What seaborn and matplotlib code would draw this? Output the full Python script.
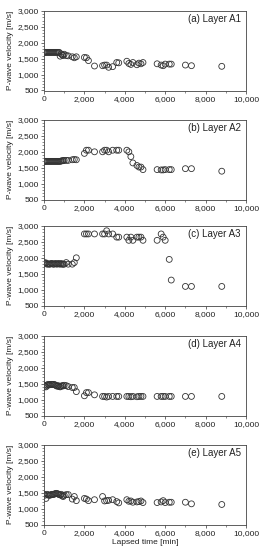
import numpy as np
import pandas as pd
import matplotlib
matplotlib.use("Agg")
import matplotlib.pyplot as plt
from matplotlib.ticker import MultipleLocator, FuncFormatter
import seaborn as sns

time_min = [0, 50, 100, 150, 200, 250, 300, 350, 400, 450, 500, 550, 600, 650, 700,
            750, 800, 850, 900, 950, 1000, 1100, 1200, 1400, 1500, 1600, 2000, 2100,
            2200, 2500, 2900, 3000, 3100, 3200, 3400, 3600, 3700, 4100, 4200, 4300,
            4400, 4600, 4700, 4800, 4900, 5600, 5800, 5900, 6000, 6200, 6300, 7000,
            7300, 8800]

layer_a1 = [1700, 1700, 1700, 1700, 1700, 1700, 1700, 1700, 1700, 1700, 1700, 1700, 1700, 1700, 1700,
            1700, 1580, 1650, 1620, 1600, 1640, 1600, 1590, 1560, 1530, 1560, 1540, 1530,
            1440, 1270, 1280, 1300, 1300, 1230, 1250, 1380, 1370, 1420, 1350, 1320,
            1380, 1310, 1360, 1340, 1380, 1340, 1300, 1280, 1330, 1330, 1330, 1300,
            1280, 1260]

layer_a2 = [1700, 1700, 1700, 1700, 1700, 1700, 1700, 1700, 1700, 1700, 1700, 1700, 1700, 1700, 1700,
            1700, 1700, 1710, 1720, 1720, 1730, 1730, 1730, 1750, 1760, 1750, 1950, 2050,
            2050, 2000, 2000, 2050, 2050, 2000, 2050, 2050, 2050, 2050, 2000, 1850,
            1650, 1570, 1520, 1520, 1440, 1440, 1430, 1430, 1440, 1440, 1440, 1470,
            1470, 1390]

layer_a3 = [1850, 1830, 1840, 1800, 1810, 1800, 1800, 1820, 1820, 1800, 1800, 1820, 1810, 1800, 1820,
            1810, 1800, 1820, 1800, 1800, 1800, 1850, 1800, 1800, 1850, 2000, 2750, 2750,
            2750, 2750, 2750, 2750, 2850, 2750, 2750, 2650, 2650, 2650, 2550, 2650,
            2550, 2650, 2650, 2650, 2550, 2550, 2750, 2650, 2550, 1950, 1300, 1100,
            1100, 1100]

layer_a4 = [1450, 1420, 1400, 1450, 1480, 1460, 1470, 1480, 1480, 1470, 1480, 1460, 1440, 1420, 1440,
            1410, 1400, 1420, 1440, 1430, 1450, 1440, 1410, 1380, 1380, 1250, 1120, 1220,
            1220, 1150, 1100, 1100, 1080, 1100, 1100, 1100, 1100, 1100, 1100, 1090,
            1100, 1090, 1100, 1100, 1100, 1100, 1100, 1100, 1100, 1100, 1100, 1100,
            1100, 1100]

layer_a5 = [1450, 1420, 1320, 1450, 1430, 1420, 1420, 1440, 1450, 1440, 1450, 1470, 1480, 1470, 1460,
            1440, 1430, 1450, 1400, 1380, 1420, 1440, 1440, 1300, 1380, 1250, 1320, 1300,
            1250, 1280, 1380, 1240, 1250, 1260, 1280, 1220, 1180, 1280, 1230, 1240,
            1200, 1210, 1220, 1240, 1190, 1190, 1210, 1250, 1190, 1200, 1200, 1200,
            1150, 1130]

panel_labels = ["(a) Layer A1", "(b) Layer A2", "(c) Layer A3", "(d) Layer A4", "(e) Layer A5"]
layers = [layer_a1, layer_a2, layer_a3, layer_a4, layer_a5]
x_ticks = [0, 2000, 4000, 6000, 8000, 10000]
y_ticks = [500, 1000, 1500, 2000, 2500, 3000]

sns.set_style("ticks")
plt.rcParams['font.family'] = ['Liberation Sans', 'DejaVu Sans']

fig = plt.figure(figsize=(2.61, 5.5), dpi=100)
W, H = 261.0, 550.0
left_px, right_px = 44.0, 246.0
tops_px = [11, 120, 226, 336, 445]
h_px = 79.5

fmt = FuncFormatter(lambda v, p: f"{int(v):,}")

for i, (vals, lab) in enumerate(zip(layers, panel_labels)):
    ax = fig.add_axes([left_px / W, 1 - (tops_px[i] + h_px) / H,
                       (right_px - left_px) / W, h_px / H])
    df = pd.DataFrame({"t": time_min, "v": vals})
    sns.scatterplot(data=df, x="t", y="v", ax=ax, marker="o", s=18,
                    facecolors="none", edgecolor="#333333", linewidth=0.6)
    ax.set_xlim(0, 10000)
    ax.set_ylim(500, 3000)
    ax.set_xticks(x_ticks)
    ax.set_yticks(y_ticks)
    ax.xaxis.set_minor_locator(MultipleLocator(1000))
    ax.yaxis.set_minor_locator(MultipleLocator(100))
    ax.xaxis.set_major_formatter(fmt)
    ax.yaxis.set_major_formatter(fmt)
    ax.tick_params(axis="both", which="major", labelsize=6, length=2.5, width=0.5,
                   pad=1.5, color="#333333", labelcolor="#222222")
    ax.tick_params(axis="both", which="minor", length=1.5, width=0.4, color="#333333")
    for sp in ax.spines.values():
        sp.set_visible(True)
        sp.set_linewidth(0.6)
        sp.set_color("#444444")
    ax.set_ylabel("P-wave velocity [m/s]", fontsize=6, labelpad=2, color="#222222")
    if i == 4:
        ax.set_xlabel("Lapsed time [min]", fontsize=6, labelpad=1.5, color="#222222")
    else:
        ax.set_xlabel("")
    ax.text(0.975, 0.9, lab, transform=ax.transAxes, ha="right", va="center",
            fontsize=7, color="#222222")

fig.savefig("out.png", dpi=100)
